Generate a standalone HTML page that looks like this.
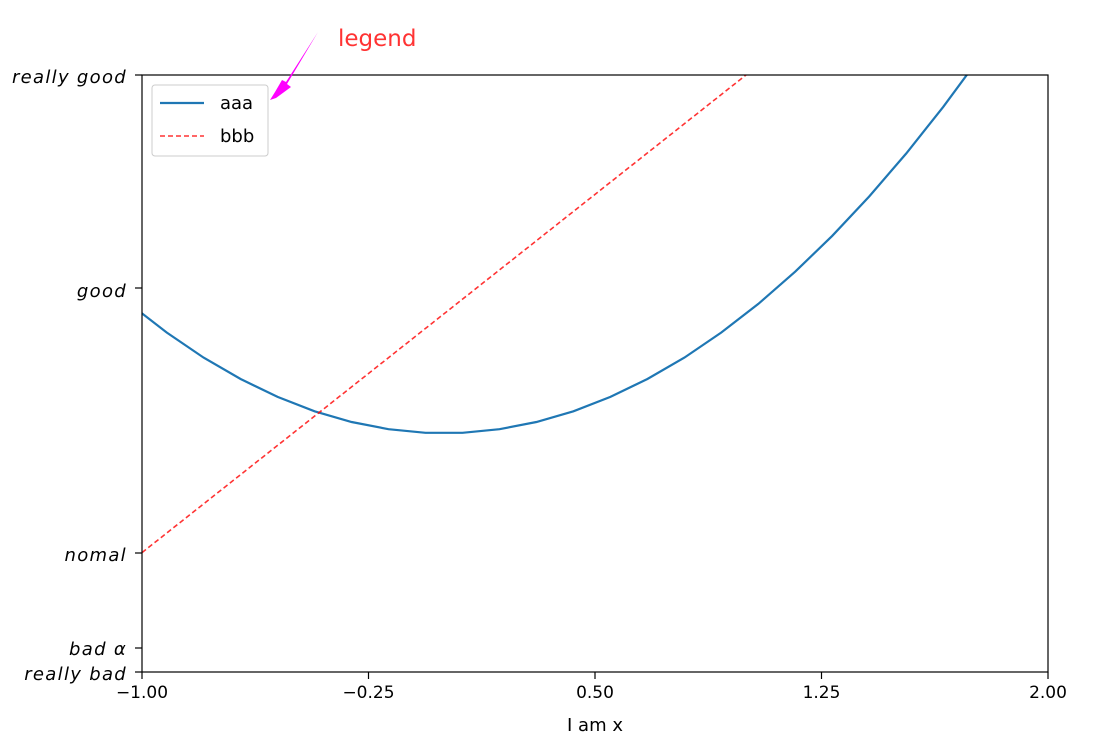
<!DOCTYPE html>
<html><head><meta charset="utf-8"><style>
body{margin:0;background:#fff}
svg{font-family:"DejaVu Sans","Liberation Sans",sans-serif}
</style></head><body>
<svg id="s" width="1102" height="745" xmlns="http://www.w3.org/2000/svg">
<defs><clipPath id="c"><rect x="142" y="75" width="906" height="597"/></clipPath></defs>
<rect width="1102" height="745" fill="#fff"/>
<g clip-path="url(#c)">
<polyline id="blue" fill="none" stroke="#1f77b4" stroke-width="2.2" points=""/>
<line x1="142" y1="552.6" x2="746" y2="75" stroke="#ff0000" stroke-opacity="0.8" stroke-width="1.6" stroke-dasharray="5,3"/>
</g>
<rect x="142" y="75" width="906" height="597" fill="none" stroke="#000" stroke-width="1.2"/>
<g stroke="#000" stroke-width="1.2">
<line x1="142" y1="672" x2="142" y2="679"/><line x1="368.5" y1="672" x2="368.5" y2="679"/>
<line x1="595" y1="672" x2="595" y2="679"/><line x1="821.5" y1="672" x2="821.5" y2="679"/>
<line x1="1048" y1="672" x2="1048" y2="679"/>
<line x1="135" y1="75" x2="142" y2="75"/><line x1="135" y1="288" x2="142" y2="288"/>
<line x1="135" y1="553" x2="142" y2="553"/><line x1="135" y1="648" x2="142" y2="648"/>
<line x1="135" y1="672" x2="142" y2="672"/>
</g>
<g font-size="17" text-anchor="middle" fill="#000">
<text x="142" y="698">−1.00</text><text x="368.5" y="698">−0.25</text>
<text x="595" y="698">0.50</text><text x="821.5" y="698">1.25</text><text x="1048" y="698">2.00</text>
<text x="595" y="731" font-size="18">I am x</text>
</g>
<g font-size="18" text-anchor="end" font-style="italic" fill="#000" letter-spacing="1.3">
<text x="127" y="83">really good</text><text x="127" y="297">good</text>
<text x="127" y="561">nomal</text><text x="127" y="655">bad α</text><text x="127" y="680">really bad</text>
</g>
<rect x="152" y="85" width="116" height="71" rx="3" fill="#fff" stroke="#ccc"/>
<line x1="160" y1="103" x2="204" y2="103" stroke="#1f77b4" stroke-width="2.2"/>
<line x1="160" y1="136" x2="204" y2="136" stroke="#ff0000" stroke-opacity="0.8" stroke-width="1.6" stroke-dasharray="5,3"/>
<text x="220" y="109" font-size="18">aaa</text>
<text x="220" y="142" font-size="18">bbb</text>
<text x="338" y="46" font-size="23" fill="#ff3333">legend</text>
<polygon points="318,32 287,84 291,87 276,98 270,100 275,92 282,80 286,82" fill="#ff00ff"/>
</svg>
<script>
var p=[];for(var i=0;i<50;i++){var x=-3+i*6/49;if(x<-1.2||x>2.1)continue;var y=x*x;p.push((142+(x+1)*302).toFixed(1)+","+(672-(y+2)*119.4).toFixed(1));}
document.getElementById("blue").setAttribute("points",p.join(" "));
</script>
</body></html>
